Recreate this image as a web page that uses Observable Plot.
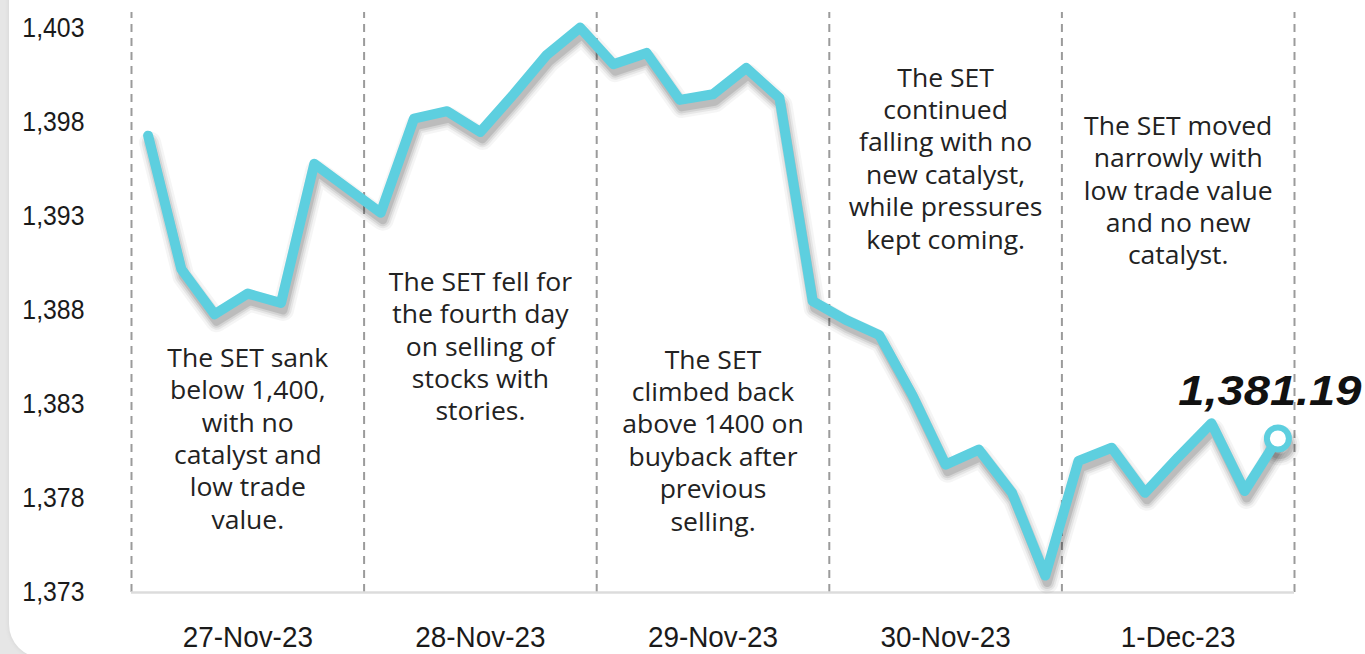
<!DOCTYPE html>
<html><head><meta charset="utf-8">
<script src="https://cdn.jsdelivr.net/npm/d3@7"></script>
<script src="https://cdn.jsdelivr.net/npm/@observablehq/plot@0.6"></script>
<style>
html,body{margin:0;padding:0;background:#e6e6e6;width:1365px;height:654px;overflow:hidden;}
#card{position:absolute;left:9px;top:-40px;width:1420px;height:698px;background:#fff;border-radius:34px;box-shadow:0 0 5px rgba(0,0,0,0.08);}
#chart{position:absolute;left:0;top:0;}
</style></head><body><div id="card"></div><div id="chart"></div>
<script>
// ---- data ----
const days = ["27-Nov-23","28-Nov-23","29-Nov-23","30-Nov-23","1-Dec-23"];
const pointsPerDay = 7;
const setIndex = [
  1397.3, 1390.2, 1387.8, 1388.9, 1388.4, 1395.8, 1394.5,
  1393.2, 1398.2, 1398.6, 1397.5, 1399.5, 1401.6, 1403.05,
  1401.1, 1401.7, 1399.2, 1399.5, 1400.9, 1399.3, 1388.5,
  1387.5, 1386.7, 1383.5, 1379.8, 1380.6, 1378.3, 1373.9,
  1380.0, 1380.7, 1378.3, 1380.2, 1382.0, 1378.4, 1381.19
];
const yTicks = [1373, 1378, 1383, 1388, 1393, 1398, 1403];
const lastLabel = "1,381.19";
const notes = [
  "The SET sank\nbelow 1,400,\nwith no\ncatalyst and\nlow trade\nvalue.",
  "The SET fell for\nthe fourth day\non selling of\nstocks with\nstories.",
  "The SET\nclimbed back\nabove 1400 on\nbuyback after\nprevious\nselling.",
  "The SET\ncontinued\nfalling with no\nnew catalyst,\nwhile pressures\nkept coming.",
  "The SET moved\nnarrowly with\nlow trade value\nand no new\ncatalyst."
];
const noteLevel = [1381.25, 1386.15, 1381.15, 1396.15, 1394.45];

// ---- derived tables ----
const nSlots = days.length * pointsPerDay;
const series = setIndex.map((v, i) => ({i: i + 0.5, v}));
const last = series[series.length - 1];
const noteRows = notes.map((t, k) => ({x: k * pointsPerDay + pointsPerDay / 2, y: noteLevel[k], t}));
const bounds = d3.range(0, nSlots + 1, pointsPerDay);
const dayCenters = days.map((d, k) => k * pointsPerDay + pointsPerDay / 2);
const yTop = 1403.85;

const cyan = "#5dcfdf";
const tickFont = "'Liberation Sans', Arial, sans-serif";
const noteFont = "'Open Sans', Lato, sans-serif";

// soft shadow made of stacked translucent strokes (no SVG filter)
const shadowLayers = [
  {w: 22, o: 0.04}, {w: 17, o: 0.06}, {w: 13, o: 0.08}, {w: 9, o: 0.11}
];
const shadowMarks = shadowLayers.map(s =>
  Plot.line(series, {x: "i", y: "v", stroke: "#000", strokeOpacity: s.o, strokeWidth: s.w, dx: 2, dy: 7, strokeLinejoin: "round", strokeLinecap: "round"})
);
const dotShadow = shadowLayers.map(s =>
  Plot.dot([last], {x: "i", y: "v", r: 11, fill: "none", stroke: "#000", strokeOpacity: s.o, strokeWidth: s.w - 4, dx: 2, dy: 7})
);

const plot = Plot.plot({
  width: 1365, height: 654,
  marginLeft: 131, marginRight: 71, marginTop: 12, marginBottom: 62,
  x: {domain: [0, nSlots], axis: null},
  y: {domain: [1373, yTop], axis: null},
  style: {background: "transparent", overflow: "visible"},
  marks: [
    Plot.ruleX(bounds, {y1: 1373, y2: yTop, stroke: "#9b9b9b", strokeWidth: 2, strokeDasharray: "8,6"}),
    Plot.ruleY([1373], {stroke: "#dcdcdc", strokeWidth: 2.5}),
    Plot.axisY(yTicks, {tickFormat: d3.format(","), tickSize: 0, tickPadding: 47, fontSize: 27, fontFamily: tickFont, fill: "#1a1a1a"}),
    Plot.axisX(dayCenters, {tickFormat: (d, k) => days[k], tickSize: 0, tickPadding: 33, fontSize: 30, fontFamily: tickFont, fill: "#1a1a1a"}),
    Plot.text(noteRows, {x: "x", y: "y", text: "t", lineAnchor: "middle", lineHeight: 1.27, fontSize: 25.5, fontFamily: noteFont, fill: "#222"}),
    ...shadowMarks,
    ...dotShadow,
    Plot.line(series, {x: "i", y: "v", stroke: cyan, strokeWidth: 10, strokeLinejoin: "round", strokeLinecap: "round"}),
    Plot.dot([last], {x: "i", y: "v", r: 11, fill: "white", stroke: cyan, strokeWidth: 6}),
    Plot.text([last], {x: "i", y: "v", text: () => lastLabel, dx: -8, dy: -47, fontSize: 42, fontWeight: "bold", fontStyle: "italic", fontFamily: "'Liberation Sans', sans-serif", fill: "#111"})
  ]
});

// adjust horizontal proportions via the SVG transform attribute
const yTickSet = new Set(yTicks.map(d3.format(",")));
const daySet = new Set(days);
const noteSet = new Set(notes.map(n => n.replace(/\n/g, "")));
plot.querySelectorAll("text").forEach(t => {
  const s = t.textContent;
  let k = null;
  if (yTickSet.has(s)) k = 0.92;
  else if (daySet.has(s)) k = 0.93;
  else if (s === lastLabel) k = 1.12;
  else if (noteSet.has(s)) k = 1.04;
  if (k !== null) {
    const tr = t.getAttribute("transform") || "";
    t.setAttribute("transform", tr + ` scale(${k},1)`);
  }
});
document.getElementById("chart").appendChild(plot);
</script>
</body></html>
